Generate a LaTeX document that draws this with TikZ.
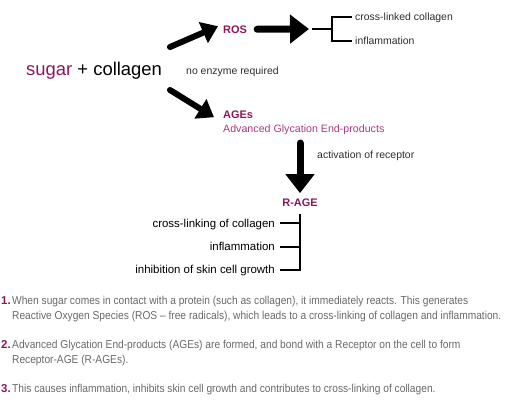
\documentclass[tikz,border=0pt]{standalone}
\usepackage{fontspec}
\setmainfont{Liberation Sans}
\newfontfamily\condfont{Liberation Sans}[FakeStretch=0.89]
\usetikzlibrary{arrows.meta,calc}

\definecolor{sugarcolor}{RGB}{140,22,94}
\definecolor{agecolor}{RGB}{168,58,128}
\definecolor{notecolor}{RGB}{105,105,105}
\definecolor{labelcolor}{RGB}{45,45,45}

\newlength{\du}
\setlength{\du}{1bp}

\tikzset{
  fatarrow/.style={line width=6bp, line cap=round, -{Triangle[length=16bp,width=22bp]}},
  widearrow/.style={line width=7bp, line cap=round, -{Triangle[length=19bp,width=28bp]}},
  bracket/.style={line width=1.3bp},
  term/.style={inner sep=0pt, text=sugarcolor, font=\bfseries\fontsize{11}{13}\selectfont},
  label/.style={inner sep=0pt, text=labelcolor, font=\fontsize{10.5}{12}\selectfont},
  effect/.style={inner sep=0pt, anchor=base east, font=\fontsize{11.5}{13}\selectfont},
  num/.style={inner sep=0pt, anchor=base west, text=sugarcolor, font=\bfseries\fontsize{11.5}{13}\selectfont},
  note/.style={inner sep=0pt, anchor=base west, text=notecolor, font=\condfont\fontsize{11.5}{13}\selectfont}
}

\begin{document}
\begin{tikzpicture}
\pgftransformxscale{1.000000}
\pgftransformyscale{-1.000000}
\useasboundingbox (0\du,0\du) rectangle (505\du,402\du);

% start
\node[inner sep=0pt, anchor=base west, font=\fontsize{18.5}{20}\selectfont] (sc) at (26\du,75\du){\textcolor{sugarcolor}{sugar} + collagen};
\node[label, anchor=base west] (noenz) at (186\du,74\du){no enzyme required};

% ROS branch
\node[term, anchor=base west] (ros) at (223\du,33\du){ROS};
\coordinate (a1) at (170\du,47\du);
\draw[fatarrow] (a1) -- ($(ros.west)+(-5\du,-3\du)$);
\coordinate (br1) at (332\du,29\du);
\draw[widearrow] ($(ros.east)+(10\du,0\du)$) -- ($(br1)+(-23\du,0\du)$);
\node[label, anchor=base west] (rcl) at (355\du,20.5\du){cross-linked collagen};
\node[label, anchor=base west] (rinf) at (355\du,44.5\du){inflammation};
\draw[bracket] (br1) -- ++(-20\du,0\du);
\draw[bracket] (352\du,17\du) -| (br1) |- (352\du,41\du);

% AGE branch
\node[term, anchor=base west] (ages) at (223\du,118\du){AGEs};
\node[inner sep=0pt, anchor=base west, text=agecolor, font=\fontsize{10.7}{12}\selectfont] (agesfull) at (223\du,132\du){Advanced Glycation End-products};
\coordinate (a2) at (170\du,90\du);
\draw[fatarrow] (a2) -- ($(ages.west)+(-9\du,3\du)$);

\node[term, anchor=base] (rage) at (300\du,206\du){R-AGE};
\coordinate (a4) at (300\du,143\du);
\draw[widearrow] (a4) -- ($(rage.north)+(0\du,-5\du)$);
\node[label, anchor=base west] (act) at (317\du,158\du){activation of receptor};

\node[effect] (rl1) at (275\du,227\du){cross-linking of collagen};
\node[effect] (rl2) at (275\du,250.5\du){inflammation};
\node[effect] (rl3) at (275\du,273.5\du){inhibition of skin cell growth};
\draw[bracket] ($(rage.south)+(0\du,8\du)$) |- (280\du,270\du);
\draw[bracket] (280\du,223\du) -- (300\du,223\du);
\draw[bracket] (280\du,247\du) -- (300\du,247\du);

% notes
\node[num] (n1) at (1\du,304\du){1.};
\node[note] (n1a) at (12\du,304\du){When sugar comes in contact with a protein (such as collagen), it immediately reacts. This generates};
\node[note] (n1b) at (12\du,319\du){Reactive Oxygen Species (ROS – free radicals), which leads to a cross-linking of collagen and inflammation.};
\node[num] (n2) at (1\du,348\du){2.};
\node[note] (n2a) at (12\du,348\du){Advanced Glycation End-products (AGEs) are formed, and bond with a Receptor on the cell to form};
\node[note] (n2b) at (12\du,363\du){Receptor-AGE (R-AGEs).};
\node[num] (n3) at (1\du,392.5\du){3.};
\node[note] (n3a) at (12\du,392.5\du){This causes inflammation, inhibits skin cell growth and contributes to cross-linking of collagen.};
\end{tikzpicture}
\end{document}
